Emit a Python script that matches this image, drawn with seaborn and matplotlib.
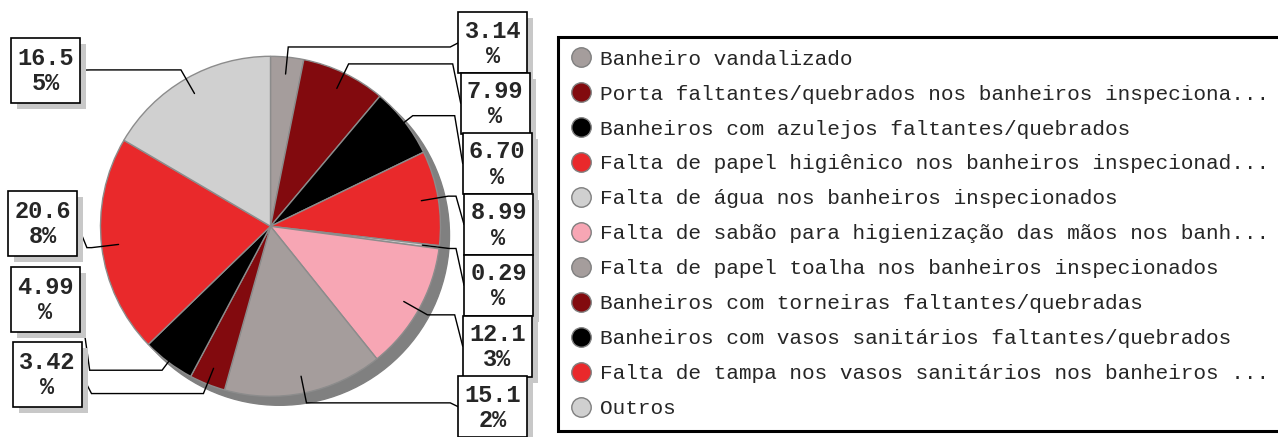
import matplotlib
matplotlib.use("Agg")
import numpy as np
import matplotlib.pyplot as plt
import seaborn as sns
from matplotlib.patches import Rectangle, Circle
from matplotlib.lines import Line2D

# dados do grafico
categorias = [
    'Banheiro vandalizado',
    'Porta faltantes/quebrados nos banheiros inspeciona...',
    'Banheiros com azulejos faltantes/quebrados',
    'Falta de papel higiênico nos banheiros inspecionad...',
    'Falta de água nos banheiros inspecionados',
    'Falta de sabão para higienização das mãos nos banh...',
    'Falta de papel toalha nos banheiros inspecionados',
    'Banheiros com torneiras faltantes/quebradas',
    'Banheiros com vasos sanitários faltantes/quebrados',
    'Falta de tampa nos vasos sanitários nos banheiros ...',
    'Outros',
]
percentuais = [3.14, 7.99, 6.70, 8.99, 0.29, 12.13, 15.12, 3.42, 4.99, 20.68, 16.55]
cores = ['#a59d9c', '#820a0e', '#000000', '#e9292b', '#d0d0d0', '#f7a6b4',
         '#a59d9c', '#820a0e', '#000000', '#e9292b', '#d0d0d0']

sns.set_style('white')
plt.rcParams['font.family'] = ['Liberation Mono', 'DejaVu Sans Mono']

W, H = 1278, 437
fig = plt.figure(figsize=(W / 100, H / 100), dpi=100)
ax = fig.add_axes([0, 0, 1, 1])

# pie in pixel units
cx, cy, r = 270.5, H - 226.3, 170
ax.add_patch(Circle((cx + 9, cy - 9), r, color='#808080', zorder=0))
wedges, _ = ax.pie(percentuais, colors=cores, startangle=90, counterclock=False,
                   center=(cx, cy), radius=r, frame=True,
                   wedgeprops=dict(edgecolor='#8c8c8c', linewidth=1))

# label boxes (left, top) in pixels from top-left
box_pos = [(458.3, 12.3), (460.7, 72.7), (462.7, 133), (464, 194), (464, 254.7),
           (462.7, 315.7), (458.3, 376.3), (12.5, 341.7), (10.7, 266.7),
           (7.9, 190.7), (11.4, 37.7)]
box_h = [61] * 7 + [65] * 4
box_w = 69

for i, (w, v) in enumerate(zip(wedges, percentuais)):
    ang = np.deg2rad((w.theta1 + w.theta2) / 2)
    ux, uy = np.cos(ang), np.sin(ang)
    ancora = (cx + 0.9 * r * ux, cy + 0.9 * r * uy)
    cotovelo = (cx + 1.06 * r * ux, cy + 1.06 * r * uy)

    x0, top = box_pos[i]
    h = box_h[i]
    y0 = H - top - h
    if cotovelo[0] < cx:
        tx = x0 + box_w
        hx = tx + 10
    else:
        tx = x0
        hx = tx - 8
    ty = y0 + h / 2
    ax.plot([ancora[0], cotovelo[0], hx, tx], [ancora[1], cotovelo[1], cotovelo[1], ty],
            color='black', lw=1.0, zorder=3, solid_joinstyle='miter')

    ax.add_patch(Rectangle((x0 + 6, y0 - 6), box_w, h, facecolor='#c8c8c8',
                           edgecolor='none', zorder=4 + 2 * i))
    ax.add_patch(Rectangle((x0, y0), box_w, h, facecolor='white',
                           edgecolor='black', lw=1.2, zorder=5 + 2 * i))
    txt = f'{v:.2f}%'
    linhas = '\n'.join(txt[k:k + 4] for k in range(0, len(txt), 4))
    ax.text(x0 + box_w / 2, y0 + h / 2 - 1, linhas, ha='center', va='center',
            fontsize=17, fontweight='bold', linespacing=1.12, zorder=5 + 2 * i)

ax.set_xlim(0, W)
ax.set_ylim(0, H)
ax.set_aspect('auto')
ax.axis('off')

handles = [Line2D([], [], linestyle='none', marker='o', markersize=14,
                  markerfacecolor=c, markeredgecolor='#7f7f7f', markeredgewidth=1)
           for c in cores]
leg = ax.legend(handles, categorias, loc='upper left',
                bbox_to_anchor=(558 / W, 1 - 37 / H), bbox_transform=fig.transFigure,
                borderaxespad=0, borderpad=0.6, handlelength=1.0, handletextpad=0.4,
                labelspacing=0.755, fancybox=False, framealpha=1, edgecolor='black',
                prop={'family': ['Liberation Mono', 'DejaVu Sans Mono'], 'size': 15.2})
leg.get_frame().set_linewidth(2.2)

fig.savefig('out.png', dpi=100)
